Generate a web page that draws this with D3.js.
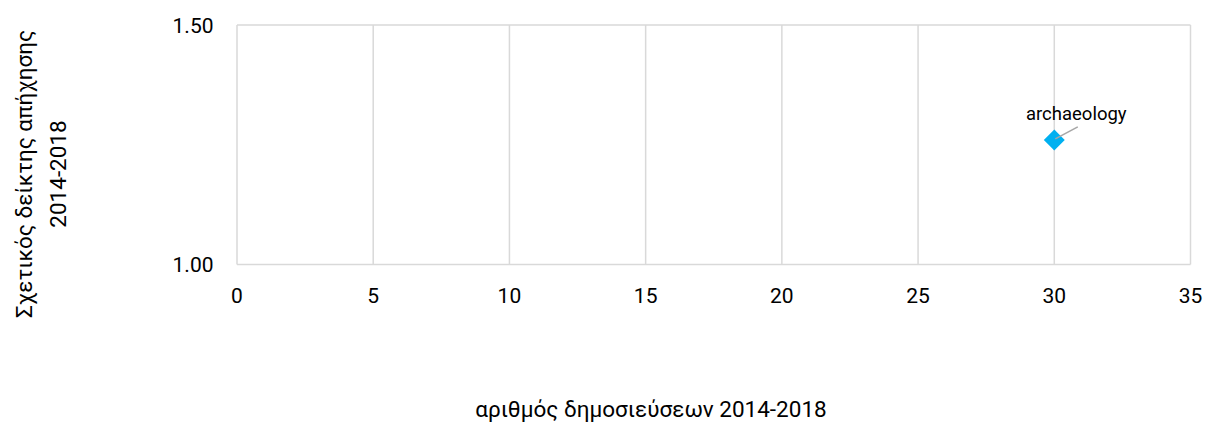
<!DOCTYPE html>
<html><head><meta charset="utf-8">
<script src="https://cdn.jsdelivr.net/npm/d3@7"></script>
<style>
body{margin:0;background:#fff;}
text{font-family:Roboto,"Noto Sans",sans-serif;fill:#000;}
</style></head>
<body><svg id="c" width="1216" height="427"></svg>
<script>
const categories = ["archaeology"];
const xValues = [30];
const yValues = [1.26];
const xTicks = [0,5,10,15,20,25,30,35];
const yTicks = [1.00,1.50];
const xTitle = "αριθμός δημοσιεύσεων 2014-2018";
const yTitleLines = ["Σχετικός δείκτης απήχησης","2014-2018"];

const svg = d3.select("#c");
const L=237, R=1190.5, T=25, B=264.5;
const x = d3.scaleLinear().domain([0,35]).range([L,R]);
const y = d3.scaleLinear().domain([1,1.5]).range([B,T]);

// vertical gridlines
svg.append("g").selectAll("line").data(xTicks).join("line")
  .attr("x1",d=>x(d)).attr("x2",d=>x(d)).attr("y1",T).attr("y2",B)
  .attr("stroke","#d9d9d9").attr("stroke-width",1.5);
// horizontal gridlines
svg.append("g").selectAll("line").data(yTicks).join("line")
  .attr("x1",L).attr("x2",R).attr("y1",d=>y(d)).attr("y2",d=>y(d))
  .attr("stroke","#d9d9d9").attr("stroke-width",1.5);

// x tick labels
svg.append("g").selectAll("text").data(xTicks).join("text")
  .attr("x",d=>x(d)).attr("y",B+38.5).attr("text-anchor","middle")
  .attr("font-size",21).text(d=>d);
// y tick labels
svg.append("g").selectAll("text").data(yTicks).join("text")
  .attr("x",213.5).attr("y",d=>y(d)+7.5).attr("text-anchor","end")
  .attr("font-size",21).text(d=>d.toFixed(2));

// points
const pts = categories.map((c,i)=>({c,x:xValues[i],y:yValues[i]}));
svg.append("g").selectAll("path").data(pts).join("path")
  .attr("d",d3.symbol(d3.symbolSquare,220)())
  .attr("transform",d=>`translate(${x(d.x)},${y(d.y)}) rotate(45)`)
  .attr("fill","#00B0F0");
// leader lines
svg.append("g").selectAll("line").data(pts).join("line")
  .attr("x1",d=>x(d.x)+1).attr("y1",d=>y(d.y)-1)
  .attr("x2",d=>x(d.x)+23.5).attr("y2",d=>y(d.y)-13)
  .attr("stroke","#a6a6a6").attr("stroke-width",1.5);
// labels
svg.append("g").selectAll("text").data(pts).join("text")
  .attr("x",d=>x(d.x)+22).attr("y",d=>y(d.y)-20).attr("text-anchor","middle")
  .attr("font-size",18.5).text(d=>d.c);

// axis titles
svg.append("text").attr("x",651).attr("y",417).attr("text-anchor","middle")
  .attr("font-size",22.5).text(xTitle);
const yt = svg.append("text").attr("transform","translate(0,174) rotate(-90)")
  .attr("text-anchor","middle").attr("font-size",22.5);
yt.selectAll("tspan").data(yTitleLines).join("tspan")
  .attr("x",0).attr("y",(d,i)=>32+i*34).text(d=>d);
</script></body></html>
